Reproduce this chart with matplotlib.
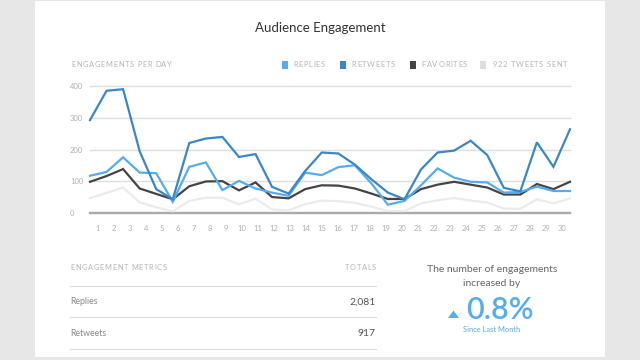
import matplotlib
matplotlib.use("Agg")
import matplotlib.pyplot as plt
from matplotlib.patches import Rectangle, Polygon
from matplotlib.font_manager import FontProperties
import numpy as np

plt.rcParams['font.family'] = ['Lato', 'DejaVu Sans']

days = [str(i) for i in range(1, 31)]
replies = [118, 130, 176, 128, 126, 36, 146, 160, 73, 102, 78, 65, 55, 128, 120,
           145, 151, 94, 27, 39, 88, 141, 112, 99, 97, 65, 67, 84, 70, 70]
retweets = [293, 385, 390, 195, 76, 44, 221, 235, 240, 177, 186, 83, 62, 133, 191,
            188, 153, 107, 65, 44, 138, 191, 197, 228, 183, 80, 69, 223, 146, 264]
favorites = [99, 117, 139, 78, 61, 44, 85, 100, 101, 72, 97, 51, 47, 76, 88,
             87, 78, 62, 45, 45, 76, 90, 99, 90, 81, 59, 59, 92, 76, 99]
tweets_sent = [48, 64, 81, 34, 19, 6, 39, 49, 49, 28, 46, 12, 9, 29, 40,
               38, 33, 21, 7, 7, 31, 41, 48, 40, 34, 15, 14, 44, 31, 47]
y_ticks = [0, 100, 200, 300, 400]
legend_labels = ["REPLIES", "RETWEETS", "FAVORITES", "922 TWEETS SENT"]
metric_names = ["Replies", "Retweets"]
metric_totals = ["2,081", "917"]

c_replies = "#55acee"
c_retweets = "#3a87c8"
c_fav = "#444444"
c_sent = "#ebebeb"

W, H = 640, 360
fig = plt.figure(figsize=(W / 100, H / 100), dpi=100)
fig.patch.set_facecolor("#e6e7e6")
renderer = fig.canvas.get_renderer()


def fx(x):
    return x / W


def fy(y):
    return 1 - y / H


def spaced(x, y, s, size, color, track, ha="left"):
    prop = FontProperties(family="Lato", size=size)
    widths = []
    for ch in s:
        if ch == " ":
            w, _, _ = renderer.get_text_width_height_descent("a a", prop, ismath=False)
            w2, _, _ = renderer.get_text_width_height_descent("aa", prop, ismath=False)
            widths.append(w - w2)
        else:
            w, _, _ = renderer.get_text_width_height_descent(ch, prop, ismath=False)
            widths.append(w)
    total = sum(widths) + track * (len(s) - 1)
    cx = x if ha == "left" else x - total
    for ch, w in zip(s, widths):
        if ch != " ":
            fig.text(fx(cx), fy(y), ch, ha="left", va="center", fontsize=size,
                     color=color, family="Lato")
        cx += w + track


# white card
fig.patches.append(Rectangle((fx(35), fy(357)), fx(605) - fx(35), fy(1) - fy(357),
                             transform=fig.transFigure, facecolor="white",
                             edgecolor="none", zorder=-10))

# main axes
x0, x1, ytop, ybot = 90, 570, 86, 213.3
ax = fig.add_axes([fx(x0), fy(ybot), fx(x1) - fx(x0), fy(ytop) - fy(ybot)])
ax.set_facecolor("none")
n = len(days)
xs = np.arange(n)
ax.set_xlim(0, n - 1)
ax.set_ylim(0, 400)
for s in ax.spines.values():
    s.set_visible(False)
for t in y_ticks[1:]:
    ax.axhline(t, color="#dddddd", lw=1.0, zorder=1, clip_on=False)
ax.axhline(0, color="#aaaaaa", lw=1.7, zorder=1, clip_on=False)

kw = dict(lw=1.6, solid_joinstyle="miter", clip_on=False)
ax.plot(xs, tweets_sent, color=c_sent, zorder=2, **kw)
ax.plot(xs, favorites, color=c_fav, zorder=3, **kw)
ax.plot(xs, replies, color=c_replies, zorder=4, **kw)
ax.plot(xs, retweets, color=c_retweets, zorder=5, **kw)

ax.set_yticks(y_ticks)
ax.set_yticklabels([str(t) for t in y_ticks])
ax.tick_params(axis="y", length=0, pad=14.4, labelsize=5.5, labelcolor="#b0b0b0")
for lab in ax.get_yticklabels():
    lab.set_horizontalalignment("left")
band = (n - 1) / n
ax.set_xticks([(i + 0.5) * band for i in range(n)])
ax.set_xticklabels(days)
ax.tick_params(axis="x", length=0, pad=8.5, labelsize=5.5, labelcolor="#b0b0b0")

# title
fig.text(fx(320), fy(28), "Audience Engagement", ha="center", va="center",
         fontsize=9.5, color="#333333")
spaced(71, 64.7, "ENGAGEMENTS PER DAY", 5.4, "#b5b5b5", 0.7)

# legend
leg_x = [284.8, 343, 412.8, 483.3]
leg_t = [293.3, 351.7, 421.7, 492.7]
leg_c = [c_replies, c_retweets, c_fav, "#dddddd"]
for lx, tx, lc, ll in zip(leg_x, leg_t, leg_c, legend_labels):
    fig.patches.append(Rectangle((fx(lx - 3), fy(68.5)), fx(6), fy(60.5) - fy(68.5),
                                 transform=fig.transFigure, facecolor=lc,
                                 edgecolor="none", zorder=2))
    spaced(tx, 64.7, ll, 5.4, "#b5b5b5", 0.7)

# metrics table
spaced(70, 267.7, "ENGAGEMENT METRICS", 5.4, "#b5b5b5", 0.7)
spaced(376, 267.7, "TOTALS", 5.4, "#b5b5b5", 0.7, ha="right")
for yy in [285.7, 317.3, 349.3]:
    fig.add_artist(plt.Line2D([fx(70), fx(376)], [fy(yy), fy(yy)],
                              transform=fig.transFigure, color="#dddddd", lw=0.8))
for i, (nm, tot) in enumerate(zip(metric_names, metric_totals)):
    yy = 301.5 + 32 * i
    fig.text(fx(70), fy(yy), nm, ha="left", va="center", fontsize=6.3, color="#888888")
    fig.text(fx(376), fy(yy + 0.5), tot, ha="right", va="center", fontsize=7.5,
             color="#555555")

# summary
fig.text(fx(491.7), fy(270), "The number of engagements", ha="center", va="center",
         fontsize=7.5, color="#666666")
fig.text(fx(491.7), fy(284), "increased by", ha="center", va="center",
         fontsize=7.5, color="#666666")
fig.text(fx(500), fy(310), "0.8%", ha="center", va="center",
         fontsize=22, color=c_replies, fontweight="semibold")
fig.patches.append(Polygon([(fx(448), fy(318)), (fx(459), fy(318)), (fx(453.5), fy(310.5))],
                           closed=True, transform=fig.transFigure,
                           facecolor=c_replies, edgecolor="none", zorder=2))
fig.text(fx(491.7), fy(330), "Since Last Month", ha="center", va="center",
         fontsize=5.4, color=c_replies)

fig.savefig("out.png", dpi=100, facecolor=fig.get_facecolor())
